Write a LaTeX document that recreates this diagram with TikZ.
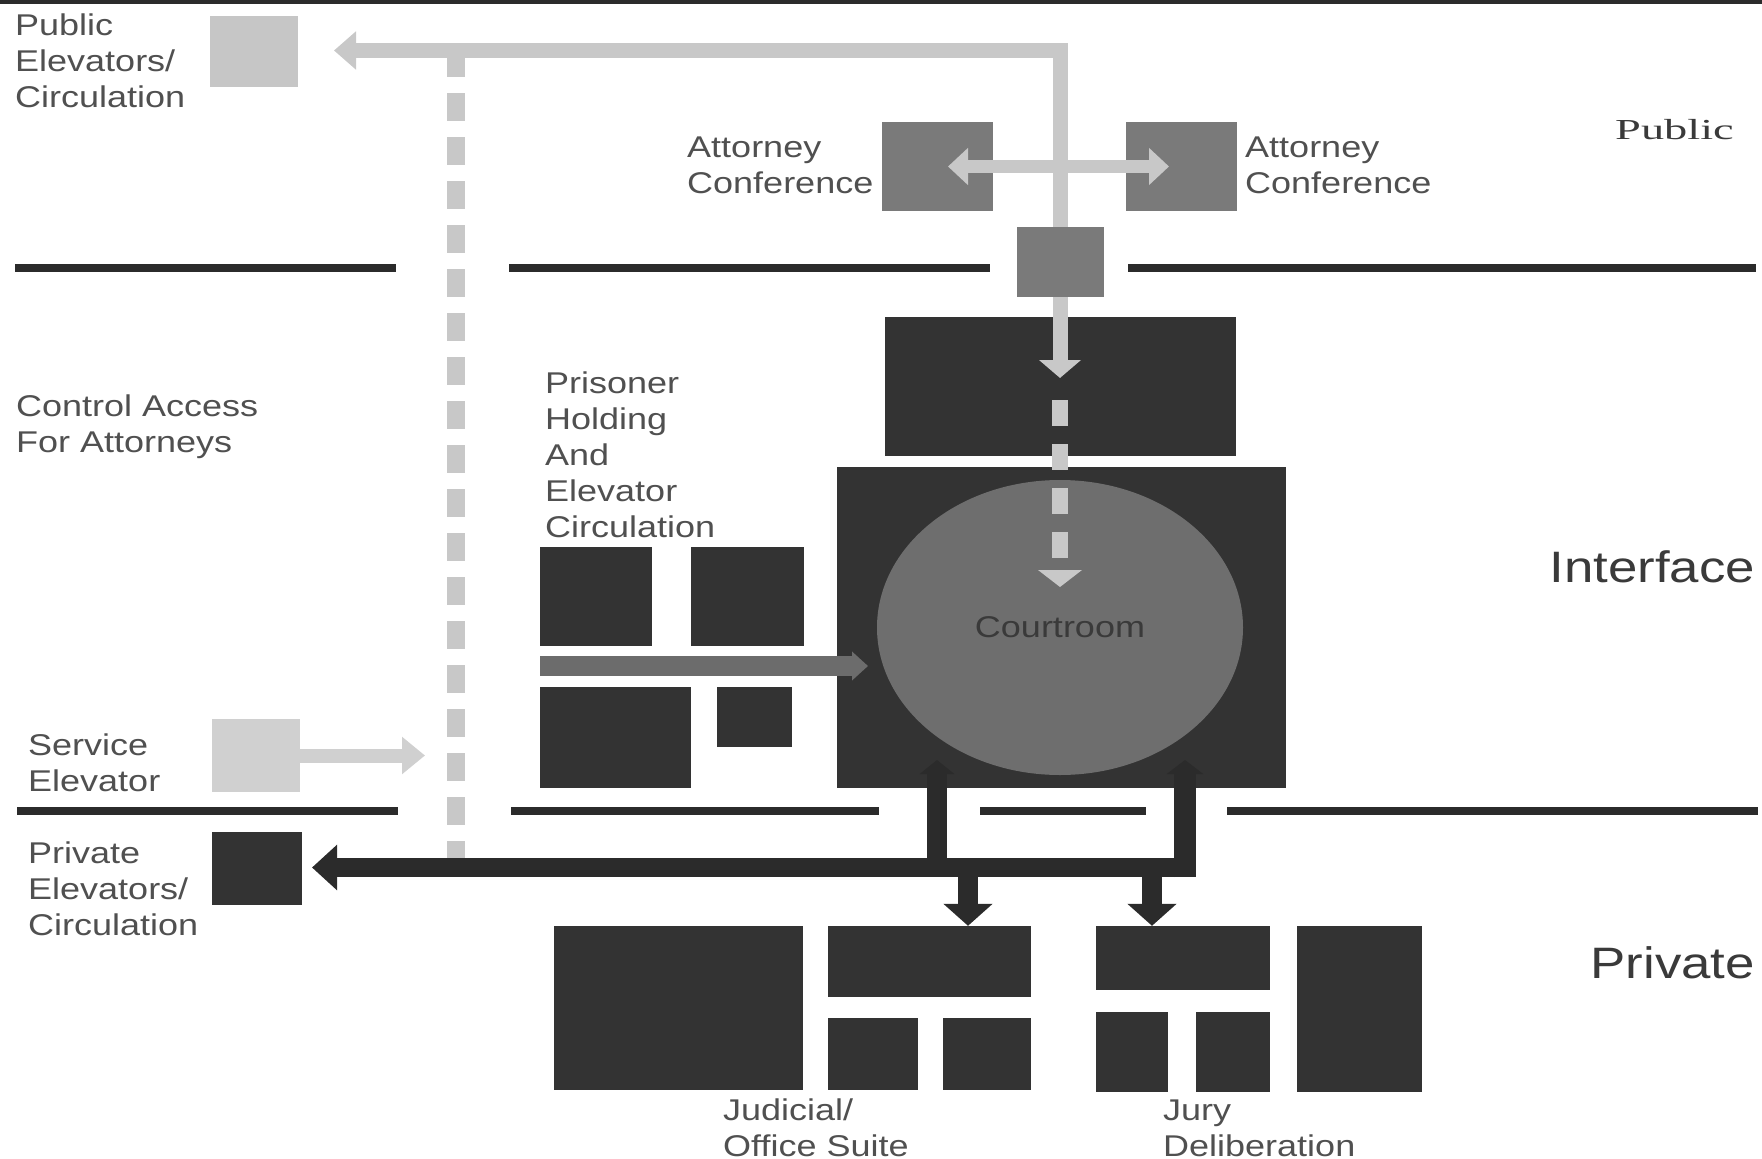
\documentclass[tikz,border=0pt]{standalone}
\usepackage{fontspec}
\setmainfont{Liberation Sans}
\newfontfamily\serifpub{Liberation Serif}
\usetikzlibrary{arrows.meta,shapes.geometric,fit}
\definecolor{dk}{HTML}{333333}
\definecolor{dkline}{HTML}{2B2B2B}
\definecolor{md}{HTML}{7A7A7A}
\definecolor{ell}{HTML}{6E6E6E}
\definecolor{strip}{HTML}{6C6C6C}
\definecolor{lt}{HTML}{C8C8C8}
\definecolor{ltsq}{HTML}{C6C6C6}
\definecolor{lt2}{HTML}{D0D0D0}
\definecolor{txt}{HTML}{505050}
\definecolor{txtdk}{HTML}{3A3A3A}
\newcommand\lbl[1]{\scalebox{1.2}[1]{\begin{tabular}[t]{@{}l@{}}#1\end{tabular}}}
\begin{document}
\begin{tikzpicture}[x=1pt,y=-1pt,
  room/.style={fill=dk, inner sep=0pt, draw=none},
  medbox/.style={fill=md, inner sep=0pt, draw=none},
  lightbox/.style={fill=ltsq, inner sep=0pt, draw=none},
  lightbox2/.style={fill=lt2, inner sep=0pt, draw=none},
  lab/.style={font=\fontsize{30}{36}\selectfont, text=txt, inner sep=0pt, anchor=base west},
  zone/.style={font=\fontsize{44}{50}\selectfont, text=txtdk, inner sep=0pt, anchor=base east},
  divider/.style={draw=dkline, line width=8pt},
  lightpath/.style={draw=lt, line width=15pt, line join=miter},
  dkconn/.style={draw=dkline, line width=20pt},
]
\useasboundingbox (0,0) rectangle (1762,1159);
\fill[white] (0,0) rectangle (1762,1159);
% top border
\draw[draw=dkline, line width=4pt] (0,2) -- (1762,2);

% dividers
\draw[divider] (15,268) -- (396,268);
\draw[divider] (509,268) -- (990,268);
\draw[divider] (1128,268) -- (1756,268);
\draw[divider] (17,811) -- (398,811);
\draw[divider] (511,811) -- (879,811);
\draw[divider] (980,811) -- (1146,811);
\draw[divider] (1227,811) -- (1758,811);

% rooms
\node[lightbox, fit={(210,16) (298,87)}] (pubelev) {};
\node[lightbox2, fit={(212,719) (300,792)}] (servelev) {};
\node[room, fit={(212,832) (302,905)}] (privelev) {};
\node[medbox, fit={(882,122) (993,211)}] (attL) {};
\node[medbox, fit={(1126,122) (1237,211)}] (attR) {};
\node[room, fit={(885,317) (1236,456)}] (hold) {};
\node[room, fit={(837,467) (1286,788)}] (crbox) {};
\node[ellipse, fill=ell, minimum width=366pt, minimum height=295pt, inner sep=0pt,
      font=\fontsize{30}{36}\selectfont, text=txtdk] (court) at (1060,627.5) {\scalebox{1.2}[1]{Courtroom}};
% prisoner holding
\node[room, fit={(540,547) (652,646)}] (p1) {};
\node[room, fit={(691,547) (804,646)}] (p2) {};
\node[room, fit={(540,687) (691,788)}] (p3) {};
\node[room, fit={(717,687) (792,747)}] (p4) {};
% judicial
\node[room, fit={(554,926) (803,1090)}] (jbig) {};
\node[room, fit={(828,926) (1031,997)}] (jtop) {};
\node[room, fit={(828,1018) (918,1090)}] (jbl) {};
\node[room, fit={(943,1018) (1031,1090)}] (jbr) {};
% jury
\node[room, fit={(1096,926) (1270,990)}] (ytop) {};
\node[room, fit={(1096,1012) (1168,1092)}] (ybl) {};
\node[room, fit={(1196,1012) (1270,1092)}] (ybr) {};
\node[room, fit={(1297,926) (1422,1092)}] (ytall) {};

% coordinates
\coordinate (pubtip) at (334,50.5);
\coordinate (bend) at (1060,50.5);
\coordinate (vtip) at (1060,378);
\coordinate (dashS) at (1060,400);
\coordinate (dashE) at (1060,558);
\coordinate (aL) at (948,166.5);
\coordinate (aR) at (1169,166.5);
\coordinate (servtip) at (425,755.5);
\coordinate (vdTop) at (456,49);
\coordinate (vdBot) at (456,869);
\coordinate (stripS) at (540,666);
\coordinate (stripE) at (868,666);
\coordinate (bandR) at (1185,867.5);
\coordinate (privtip) at (312,867.5);
\coordinate (cLb) at (937,867.5);
\coordinate (cLt) at (937,760);
\coordinate (cRb) at (1185,877);
\coordinate (cRt) at (1185,760);
\coordinate (dL) at (968,867.5);
\coordinate (dR) at (1152,867.5);

% dashed public/attorney route
\draw[draw=lt, line width=18pt, dash pattern=on 28pt off 16pt] (vdTop) -- (vdBot);
% public route
\draw[lightpath, {Triangle[width=37pt,length=22pt]}-{Triangle[width=41pt,length=18pt]}] (pubtip) -- (bend) -- (vtip);
\node[medbox, fit={(1017,227) (1104,297)}] (secur) {};
\draw[draw=lt, line width=16pt, dash pattern=on 26pt off 18pt] (dashS) -- (dashE);
\fill[lt] (1038,570) -- (1082,570) -- (1060,587) -- cycle;
% attorney double arrow
\draw[draw=lt, line width=13pt, {Triangle[width=36pt,length=20pt]}-{Triangle[width=36pt,length=20pt]}] (aL) -- (aR);
% service arrow
\draw[draw=lt2, line width=14pt, -{Triangle[width=36pt,length=23pt]}] (servelev.east) -- (servtip);
% prisoner strip
\draw[draw=strip, line width=20pt, -{Triangle[width=28pt,length=16pt]}] (stripS) -- (stripE);

% private circulation
\draw[dkconn, line width=19pt, -{Triangle[width=44pt,length=25pt]}] (bandR) -- (privtip);
\draw[dkconn, -{Triangle[width=34pt,length=14pt]}] (cLb) -- (cLt);
\draw[dkconn, line width=22pt, -{Triangle[width=36pt,length=14pt]}] (cRb) -- (cRt);
\draw[dkconn, -{Triangle[width=48pt,length=22pt]}] (dL) -- (dL |- jtop.north);
\draw[dkconn, -{Triangle[width=48pt,length=22pt]}] (dR) -- (dR |- ytop.north);

% labels
\node[lab] (lpub) at (15,35) {\lbl{Public\\Elevators/\\Circulation}};
\node[lab] (lattL) at (687,157) {\lbl{Attorney\\Conference}};
\node[lab] (lattR) at (1245,157) {\lbl{Attorney\\Conference}};
\node[lab] (lctl) at (16,416) {\lbl{Control Access\\For Attorneys}};
\node[lab] (lpris) at (545,393) {\lbl{Prisoner\\Holding\\And\\Elevator\\Circulation}};
\node[lab] (lserv) at (28,755) {\lbl{Service\\Elevator}};
\node[lab] (lpriv) at (28,863) {\lbl{Private\\Elevators/\\Circulation}};
\node[lab] (ljud) at (723,1120) {\lbl{Judicial/\\Office Suite}};
\node[lab] (ljury) at (1163,1120) {\lbl{Jury\\Deliberation}};
\node[font=\serifpub\fontsize{29}{34}\selectfont, text=txtdk, inner sep=0pt, anchor=base west] (zpub) at (1615,139) {\scalebox{1.6}[1]{Public}};
\node[zone] (ziface) at (1755,582) {\scalebox{1.2}[1]{Interface}};
\node[zone] (zpriv) at (1755,978) {\scalebox{1.2}[1]{Private}};
\end{tikzpicture}
\end{document}
